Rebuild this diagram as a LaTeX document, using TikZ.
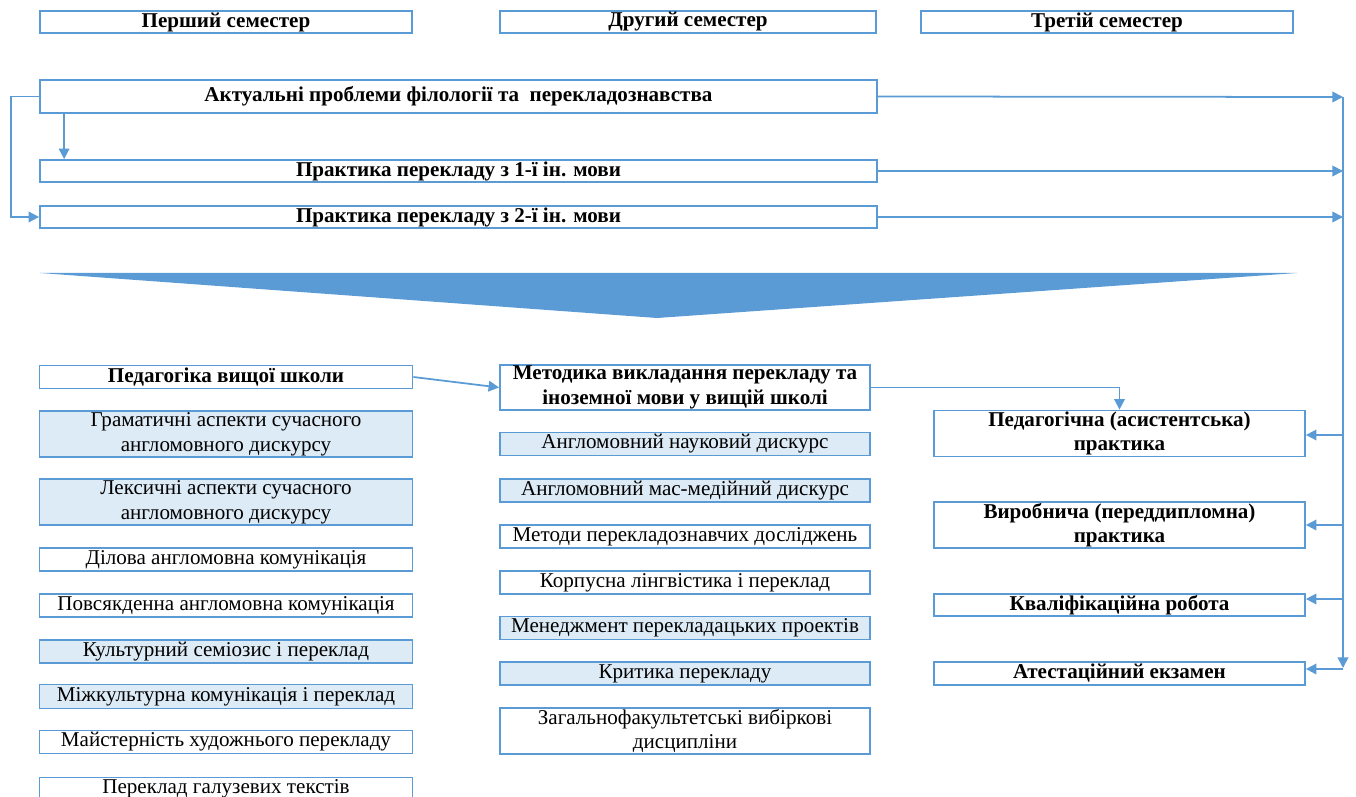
\documentclass[tikz,border=0pt]{standalone}
\usepackage{fontspec}
\setmainfont{Liberation Serif}
\usetikzlibrary{arrows.meta}
\definecolor{lineblue}{HTML}{5B9BD5}
\definecolor{fillblue}{HTML}{DDEBF7}
\tikzset{
  sz/.style 2 args={minimum width=#1*0.02cm, minimum height=#2*0.02cm},
  box/.style={draw=lineblue, line width=1pt, fill=white, inner sep=0pt, align=center,
    font=\fontsize{12}{14}\selectfont},
  bbox/.style={box, font=\bfseries\fontsize{12}{14}\selectfont},
  lbox/.style={box, fill=fillblue},
  arr/.style={draw=lineblue, line width=1pt, -{Triangle[width=6pt,length=6pt]}},
}
\begin{document}
\begin{tikzpicture}[x=0.02cm,y=-0.02cm]
  \useasboundingbox (0,0) rectangle (1356,797);
  \clip (0,0) rectangle (1356,797);

  \node[bbox, sz={372}{22}] (sem1) at (226,22) {Перший семестер};
  \node[bbox, sz={376}{22}] (sem2) at (688,22) {Другий семестер};
  \node[bbox, sz={372}{22}] (sem3) at (1107,22) {Третій семестер};

  \node[bbox, sz={837}{33}] (akt) at (458.5,96.5) {Актуальні проблеми філології та\ \ перекладознавства};
  \node[bbox, sz={837}{22}] (pr1) at (458.5,171) {Практика перекладу з 1-ї ін. мови};
  \node[bbox, sz={837}{22}] (pr2) at (458.5,217) {Практика перекладу з 2-ї ін. мови};

  \fill[lineblue] (40,273) -- (1297,273) -- (657,318) -- cycle;

  \node[bbox, sz={373}{23}] (ped)   at (226,377) {Педагогіка вищої школи};
  \node[lbox, sz={373}{46}] (gram)  at (226,434) {Граматичні аспекти сучасного\\англомовного дискурсу};
  \node[lbox, sz={373}{46}] (leks)  at (226,502) {Лексичні аспекти сучасного\\англомовного дискурсу};
  \node[box,  sz={373}{23}] (dil)   at (226,559.5) {Ділова англомовна комунікація};
  \node[box,  sz={373}{23}] (povs)  at (226,605.5) {Повсякденна англомовна комунікація};
  \node[lbox, sz={373}{23}] (kult)  at (226,651.5) {Культурний семіозис і переклад};
  \node[lbox, sz={373}{24}] (mizh)  at (226,696.5) {Міжкультурна комунікація і переклад};
  \node[box,  sz={373}{23}] (maist) at (226,742) {Майстерність художнього перекладу};
  \node[box,  sz={373}{23}] (galuz) at (226,789) {Переклад галузевих текстів};

  \node[bbox, sz={370}{45}] (metod)  at (685,387.5) {Методика викладання перекладу та\\іноземної мови у вищій школі};
  \node[lbox, sz={370}{23}] (nauk)   at (685,444) {Англомовний науковий дискурс};
  \node[lbox, sz={370}{23}] (mas)    at (685,490.5) {Англомовний мас-медійний дискурс};
  \node[box,  sz={370}{23}] (metody) at (685,536.5) {Методи перекладознавчих досліджень};
  \node[box,  sz={370}{23}] (korp)   at (685,582.5) {Корпусна лінгвістика і переклад};
  \node[lbox, sz={370}{23}] (men)    at (685,628) {Менеджмент перекладацьких проектів};
  \node[lbox, sz={370}{23}] (kryt)   at (685,673.5) {Критика перекладу};
  \node[box,  sz={370}{46}] (zag)    at (685,731) {Загальнофакультетські вибіркові\\дисципліни};

  \node[bbox, sz={371}{46}] (pedpr) at (1119.5,433.5) {Педагогічна (асистентська)\\практика};
  \node[bbox, sz={371}{46}] (vyr)   at (1119.5,525) {Виробнича (переддипломна)\\практика};
  \node[bbox, sz={371}{22}] (kval)  at (1119.5,605) {Кваліфікаційна робота};
  \node[bbox, sz={371}{23}] (atest) at (1119.5,673.5) {Атестаційний екзамен};

  \coordinate (ttop) at (1343,97);
  \coordinate (tbot) at (1343,668);
  \coordinate (t1) at (1343,435);
  \coordinate (t2) at (1343,525);
  \coordinate (t3) at (1343,599);

  \draw[arr] (akt.west) -- ++(-28,0) |- (pr2.west);
  \draw[arr] ([xshift=0.5cm]akt.south west) -- ([xshift=0.5cm]pr1.north west);
  \draw[arr] (akt.east) -- (ttop);
  \draw[arr] (pr1.east) -- (pr1.east -| ttop);
  \draw[arr] (pr2.east) -- (pr2.east -| ttop);
  \draw[arr] (ttop) -- (tbot);
  \draw[arr] (t1) -- (t1 -| pedpr.east);
  \draw[arr] (t2) -- (t2 -| vyr.east);
  \draw[arr] (t3) -- (t3 -| kval.east);
  \draw[arr] ([yshift=-0.02cm]tbot) -- ([yshift=-0.02cm]tbot -| atest.east);

  \draw[arr] (ped.east) -- (metod.west);
  \draw[arr] (metod.east) -| (pedpr.north);
\end{tikzpicture}
\end{document}
